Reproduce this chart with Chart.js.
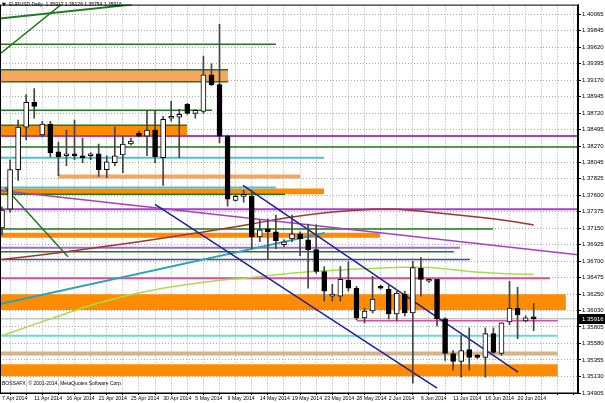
<!DOCTYPE html>
<html><head><meta charset="utf-8">
<script src="https://cdn.jsdelivr.net/npm/chart.js@4.4.1/dist/chart.umd.min.js"></script>
<style>
html,body{margin:0;padding:0;background:#fff;overflow:hidden}
#wrap{position:relative;width:605px;height:403px}
</style></head><body>
<div id="wrap"><canvas id="c" width="605" height="403"></canvas></div>
<script>
// ---------------- DATA ----------------
const opens=[1.37155,1.37411,1.37950,1.38529,1.38866,1.38422,1.38570,1.38193,1.38139,1.38152,
1.38139,1.38139,1.38166,1.37950,1.38044,1.38152,1.38300,1.38448,1.38408,1.38489,
1.38112,1.38651,1.38664,1.38839,1.38718,1.38745,1.39243,1.39109,1.38408,1.37532,
1.37586,1.37586,1.37034,1.37142,1.37101,1.36926,1.37007,1.37074,1.36993,1.36859,
1.36562,1.36225,1.36225,1.36441,1.36333,1.35929,1.36023,1.36360,1.36320,1.35983,
1.36252,1.35996,1.36603,1.36428,1.36455,1.35916,1.35444,1.35336,1.35498,1.35417,
1.35390,1.35714,1.35444,1.35875,1.36064,1.35889,1.35917];
const highs=[1.37438,1.38085,1.38624,1.38974,1.39055,1.38610,1.38610,1.38327,1.38489,1.38624,
1.38381,1.38179,1.38300,1.38139,1.38529,1.38408,1.38381,1.38475,1.38758,1.38758,
1.38678,1.38880,1.38772,1.38853,1.38772,1.39499,1.39392,1.39931,1.38422,1.37600,
1.37667,1.37667,1.37263,1.37276,1.37330,1.36993,1.37330,1.37101,1.37209,1.37196,
1.36630,1.36387,1.36630,1.36697,1.36360,1.36064,1.36495,1.36374,1.36387,1.36293,
1.36293,1.36697,1.36751,1.36468,1.36455,1.35929,1.35484,1.35687,1.35794,1.35431,
1.35794,1.35794,1.35862,1.36428,1.36347,1.35956,1.36126];
const lows=[1.37061,1.37371,1.37802,1.38354,1.38651,1.38395,1.38125,1.37869,1.38004,1.38085,
1.38044,1.38085,1.37856,1.37842,1.38004,1.37910,1.38287,1.38395,1.38139,1.38044,
1.37734,1.38610,1.38112,1.38704,1.38651,1.38718,1.39095,1.38314,1.37452,1.37519,
1.37505,1.36872,1.36967,1.36737,1.36872,1.36899,1.36967,1.36778,1.36333,1.36535,
1.36158,1.36158,1.36158,1.36293,1.35902,1.35862,1.35996,1.36320,1.35916,1.35889,
1.35956,1.35040,1.36225,1.36414,1.35821,1.35350,1.35215,1.35121,1.35215,1.35377,
1.35121,1.35444,1.35417,1.35835,1.35646,1.35875,1.35754];
const closes=[1.37398,1.37950,1.38529,1.38866,1.38812,1.38570,1.38179,1.38125,1.38152,1.38139,
1.38112,1.38166,1.37950,1.38058,1.38139,1.38300,1.38341,1.38408,1.38489,1.38125,
1.38637,1.38664,1.38704,1.38718,1.38758,1.39243,1.39109,1.38408,1.37546,1.37586,
1.37600,1.37034,1.37128,1.37101,1.36980,1.36967,1.37074,1.37007,1.36859,1.36562,
1.36293,1.36239,1.36455,1.36333,1.35929,1.36023,1.36185,1.36333,1.35983,1.36266,
1.35996,1.36616,1.36455,1.36455,1.35916,1.35444,1.35336,1.35484,1.35390,1.35390,
1.35714,1.35458,1.35862,1.36064,1.35970,1.35929,1.35916];

const dateTickBars=[0,4,8,12,16,20,24,28,32,36,40,44,48,52,56,60,64];
const dateTickLabels=['7 Apr 2014','11 Apr 2014','16 Apr 2014','21 Apr 2014','25 Apr 2014','30 Apr 2014','5 May 2014','9 May 2014','14 May 2014','19 May 2014','23 May 2014','28 May 2014','2 Jun 2014','6 Jun 2014','11 Jun 2014','16 Jun 2014','20 Jun 2014'];
const priceTickLabels=['1.40065','1.39845','1.39620','1.39395','1.39170','1.38945','1.38720','1.38495','1.38270','1.38045','1.37825','1.37600','1.37375','1.37150','1.36925','1.36700','1.36475','1.36250','1.36030','1.35805','1.35580','1.35355','1.35130','1.34905'];

// horizontal levels
const levelPrice=[1.39661,1.39311,1.39149,1.38758,1.38556,1.38408,1.38260,1.38112,1.37708,1.37613,1.37411,1.37142,1.36886,1.36832,1.36724,1.36468,1.35889,1.35687];
const levelFromBar=[-1,-1,-1,-1,-1,-1,-1,-1,-1,-1,-1,-1,-1,-1,-1,-1,44.06,-1];
const levelToBar=[34.0,28.05,28.05,26.07,22.96,72,72,39.97,34.0,35.13,72,60.95,56.85,56.1,58.09,68.02,69.0,69.0];

// zones (rectangles)
const zoneHigh=[1.39311,1.38556,1.37883,1.37694,1.37088,1.36252,1.35471,1.35296];
const zoneLow =[1.39149,1.38408,1.37829,1.37613,1.37020,1.36037,1.35417,1.35134];
const zoneFromBar=[-1,-1,6.95,-1,-1,-1,-1,-1];
const zoneToBar=[28.05,22.96,36.99,39.97,46.92,70.0,69.0,69.0];

// trend lines
const trendFromBar=[-0.25,-0.25,0.37,29.91,18.99,-0.25,-0.25];
const trendFromPrice=[1.39526,1.40011,1.37708,1.37734,1.37478,1.37667,1.36118];
const trendToBar=[7.94,16.13,8.19,64.05,54.0,71.5,40.09];
const trendToPrice=[1.40254,1.40200,1.36764,1.35188,1.34972,1.36791,1.37088];

// moving averages
const maRedBars=[0,8,17,25,31,36,41,46,49,53,59,63,66];
const maRedValues=[1.36724,1.36832,1.36967,1.37101,1.37209,1.37303,1.37371,1.37411,1.37411,1.37371,1.37303,1.37249,1.37196];
const maLimeBars=[0,6,12,18,25,31,37,43,49,53,58,62,66];
const maLimeValues=[1.35687,1.35916,1.36131,1.36293,1.36414,1.36481,1.36549,1.36589,1.36616,1.36616,1.36562,1.36535,1.36522];

// ---------------- STYLES ----------------
const C={green:'#1F7A1F',orange:'#FF8C00',sandy:'#F5A560',purple:'#A63FC6',cyan:'#4CC3C8',pink:'#DE4F9C',
navy:'#1F1F9E',slate:'#4A4A96',tan:'#D4B48A',lilac:'#9D6BD0',lcyan:'#6CD6DA',lime:'#A6DD4A',maroon:'#A4332C',teal:'#2AA3B4',grayline:'#A8A8A8'};
const levelStyle=[['green',1.5],['green',1.5],['green',1.5],['green',1.5],['green',1.5],['purple',2],['green',1.5],['cyan',2],['cyan',2],['green',1.5],['purple',2],['green',1.5],['lilac',2],['green',1.5],['slate',1.5],['pink',2],['pink',1.5],['lcyan',2]];
const zoneStyle=['sandy','orange','sandy','orange','orange','orange','tan','orange'];
const trendStyle=[['green',1.5],['green',2],['green',1.5],['navy',1.5],['navy',1.5],['purple',1.5],['teal',2]];

// ---------------- BUILD ----------------
const datasets=[];
zoneHigh.forEach((hi,i)=>{
  const a=zoneFromBar[i], b=zoneToBar[i];
  datasets.push({type:'line',data:[{x:a,y:zoneLow[i]},{x:b,y:zoneLow[i]}],borderWidth:1,borderColor:'rgba(0,0,0,0)',pointRadius:0,fill:false,order:6});
  datasets.push({type:'line',data:[{x:a,y:hi},{x:b,y:hi}],borderWidth:1,borderColor:'rgba(0,0,0,0)',pointRadius:0,fill:'-1',backgroundColor:C[zoneStyle[i]],order:6});
});
levelPrice.forEach((p,i)=>{
  datasets.push({type:'line',data:[{x:levelFromBar[i],y:p},{x:levelToBar[i],y:p}],borderColor:C[levelStyle[i][0]],borderWidth:levelStyle[i][1],pointRadius:0,fill:false,order:4});
});
const last=closes.length-1;
datasets.push({type:'line',data:[{x:-1,y:closes[last]},{x:72,y:closes[last]}],borderColor:C.grayline,borderWidth:1,pointRadius:0,fill:false,order:4});
trendFromBar.forEach((a,i)=>{
  datasets.push({type:'line',data:[{x:a,y:trendFromPrice[i]},{x:trendToBar[i],y:trendToPrice[i]}],borderColor:C[trendStyle[i][0]],borderWidth:trendStyle[i][1],pointRadius:0,fill:false,order:3});
});
datasets.push({type:'line',data:maRedBars.map((b,i)=>({x:b,y:maRedValues[i]})),borderColor:C.maroon,borderWidth:1.5,pointRadius:0,tension:0.4,fill:false,order:3});
datasets.push({type:'line',data:maLimeBars.map((b,i)=>({x:b,y:maLimeValues[i]})),borderColor:C.lime,borderWidth:1.5,pointRadius:0,tension:0.4,fill:false,order:3});
// candles
datasets.push({type:'bar',data:opens.map((o,i)=>({x:i,y:[lows[i],highs[i]]})),backgroundColor:'#444',barThickness:1,grouped:false,order:1});
datasets.push({type:'bar',data:opens.map((o,i)=>({x:i,y:[Math.min(o,closes[i]),Math.max(o,closes[i])]})),
  backgroundColor:opens.map((o,i)=>closes[i]>=o?'#ffffff':'#000000'),borderColor:'#000',borderWidth:1,borderSkipped:false,
  barThickness:5,minBarLength:2,grouped:false,order:0});

const xGridBars=[];for(let k=0;k<=70;k+=2)xGridBars.push(k);

const overlay={id:'overlay',afterDraw(chart){
  const {ctx,chartArea:a,scales:{y}}=chart;
  ctx.save();
  ctx.strokeStyle='#000';ctx.lineWidth=1;
  ctx.strokeRect(a.left+0.5,a.top+0.5,a.right-a.left-1,a.bottom-a.top-0.5);
  ctx.fillStyle='#000';ctx.textBaseline='middle';ctx.textAlign='left';
  ctx.font='5px "DejaVu Sans"';ctx.fillText('▼',2,5);
  ctx.font='5px "Liberation Sans"';
  ctx.fillText('EURUSD,Daily  '+[opens[last],highs[last],lows[last],closes[last]].map(v=>v.toFixed(5)).join(' '),9,5);
  ctx.fillText('BOSSAFX, © 2001-2014, MetaQuotes Software Corp.',2,384);
  const py=y.getPixelForValue(closes[last]);
  ctx.fillRect(a.right+1,Math.round(py)-5,27,10);
  ctx.fillStyle='#fff';ctx.font='6px "Liberation Sans"';
  ctx.fillText(closes[last].toFixed(5),a.right+4,Math.round(py)+0.5);
  ctx.restore();
}};

new Chart(document.getElementById('c'),{
  type:'bar',
  data:{datasets},
  options:{
    responsive:false,animation:false,devicePixelRatio:1,events:[],
    layout:{padding:0,autoPadding:false},
    plugins:{legend:{display:false},tooltip:{enabled:false}},
    scales:{
      x:{type:'linear',min:-0.25,max:71.5,offset:false,
        afterBuildTicks:s=>{s.ticks=xGridBars.map(v=>({value:v}));},
        afterFit:s=>{s.height=10;},
        grid:{color:'#A9A9A9',lineWidth:1,drawTicks:true,tickLength:2,tickColor:'#000',tickBorderDash:[]},
        border:{display:true,color:'#000',dash:[1,2]},
        ticks:{autoSkip:false,maxRotation:0,minRotation:0,align:'start',padding:0,color:'#000',font:{family:'Liberation Sans',size:5.2},
          callback:v=>{const i=dateTickBars.indexOf(v);return i>=0?dateTickLabels[i]:'';}}
      },
      y:{type:'linear',position:'right',min:1.34905,max:1.40200,
        afterBuildTicks:s=>{s.ticks=priceTickLabels.map(t=>({value:parseFloat(t)})).sort((p,q)=>p.value-q.value);},
        afterFit:s=>{s.width=27;},
        grid:{color:'#A9A9A9',lineWidth:1,drawTicks:true,tickLength:3,tickColor:'#000',tickBorderDash:[]},
        border:{display:true,color:'#000',dash:[1,2]},
        ticks:{autoSkip:false,padding:1,color:'#000',font:{family:'Liberation Sans',size:6},
          callback:v=>{const s=priceTickLabels.find(t=>Math.abs(parseFloat(t)-v)<1e-7);return s||'';}}
      }
    }
  },
  plugins:[overlay]
});
</script>
</body></html>
